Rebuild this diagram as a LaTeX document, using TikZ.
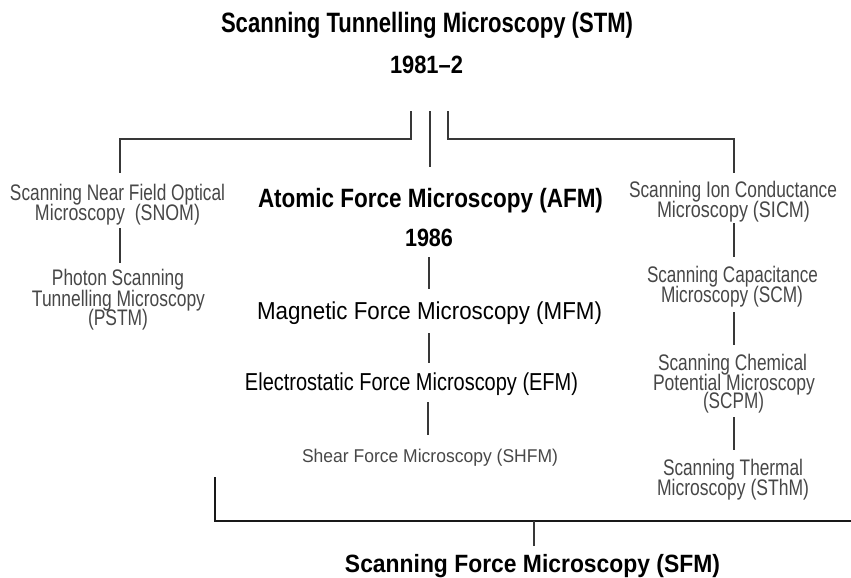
\documentclass[tikz,border=0pt]{standalone}
\usepackage{fontspec}
\usepackage{graphicx}
\setmainfont{Liberation Sans}
\usetikzlibrary{calc}
\newcommand{\fitw}[2]{\resizebox{#1pt}{\height}{#2}}
\tikzset{
  lbl/.style={inner sep=0pt, anchor=base},
  bigbold/.style={lbl, font=\fontsize{28}{28}\selectfont\bfseries},
  midbold/.style={lbl, font=\fontsize{25}{25}\selectfont\bfseries},
  afmbold/.style={lbl, font=\fontsize{26.5}{26.5}\selectfont\bfseries},
  midreg/.style={lbl, font=\fontsize{24.5}{24.5}\selectfont},
  sidereg/.style={lbl, text=black!72, font=\fontsize{22.5}{22.5}\selectfont},
  smallreg/.style={lbl, text=black!72, font=\fontsize{18.5}{18.5}\selectfont},
  conn/.style={draw=black!78, line width=1.5pt},
  baseconn/.style={draw=black!90, line width=1.7pt}
}
\begin{document}
\begin{tikzpicture}[x=1pt,y=-1pt]
\useasboundingbox (0,0) rectangle (851,578);
% top
\node[bigbold] (stm) at (427,33) {\fitw{412}{Scanning Tunnelling Microscopy (STM)}};
\node[midbold] (yr) at (426.5,73) {\fitw{73}{1981--2}};
% centre column
\node[afmbold] (afm) at (430.5,207) {\fitw{345}{Atomic Force Microscopy (AFM)}};
\node[midbold] (yr86) at (429,246) {\fitw{48}{1986}};
\node[midreg] (mfm) at (429.5,319) {\fitw{345}{Magnetic Force Microscopy (MFM)}};
\node[midreg] (efm) at (411.5,390) {\fitw{333}{Electrostatic Force Microscopy (EFM)}};
\node[smallreg] (shfm) at (430,462) {\fitw{256}{Shear Force Microscopy (SHFM)}};
% left column
\node[sidereg] (snom1) at (117.5,200) {\fitw{215}{Scanning Near Field Optical}};
\node[sidereg] (snom2) at (117.5,220) {\fitw{165}{Microscopy~ (SNOM)}};
\node[sidereg] (pstm1) at (118,285) {\fitw{132}{Photon Scanning}};
\node[sidereg] (pstm2) at (118.5,306) {\fitw{173}{Tunnelling Microscopy}};
\node[sidereg] (pstm3) at (118,325) {\fitw{60}{(PSTM)}};
% right column
\node[sidereg] (sicm1) at (733,197) {\fitw{208}{Scanning Ion Conductance}};
\node[sidereg] (sicm2) at (733.5,217) {\fitw{153}{Microscopy (SICM)}};
\node[sidereg] (scm1) at (732.5,282) {\fitw{171}{Scanning Capacitance}};
\node[sidereg] (scm2) at (732,302) {\fitw{142}{Microscopy (SCM)}};
\node[sidereg] (scpm1) at (732.5,370) {\fitw{149}{Scanning Chemical}};
\node[sidereg] (scpm2) at (734,390) {\fitw{162}{Potential Microscopy}};
\node[sidereg] (scpm3) at (733.5,408) {\fitw{61}{(SCPM)}};
\node[sidereg] (sthm1) at (733,475) {\fitw{140}{Scanning Thermal}};
\node[sidereg] (sthm2) at (733,495) {\fitw{152}{Microscopy (SThM)}};
% bottom
\node[midbold] (sfm) at (532.5,572) {\fitw{375}{Scanning Force Microscopy (SFM)}};
% connectors from STM
\draw[conn] ($(yr.base)+(-15.5,38)$) -- ++(0,28) -| ($(snom1.base)+(2.5,-27)$);
\draw[conn] ($(yr.base)+(3.5,38)$) -- ($(afm.base)+(-0.5,-40)$);
\draw[conn] ($(yr.base)+(21.5,38)$) -- ++(0,28) -| ($(sicm1.base)+(1,-24)$);
% centre chain
\draw[conn] ($(yr86.base)+(0,11)$) -- ($(mfm.base)+(-0.5,-30)$);
\draw[conn] ($(mfm.base)+(-0.5,14)$) -- ($(efm.base)+(17.5,-27)$);
\draw[conn] ($(efm.base)+(16.5,12)$) -- ($(shfm.base)+(-2,-27)$);
% left chain
\draw[conn] ($(snom2.base)+(2.5,8)$) -- ($(pstm1.base)+(2,-22)$);
% right chain
\draw[conn] ($(sicm2.base)+(0.5,6)$) -- ($(scm1.base)+(1.5,-25)$);
\draw[conn] ($(scm2.base)+(2,10)$) -- ($(scpm1.base)+(1.5,-25)$);
\draw[conn] ($(scpm3.base)+(0.5,9)$) -- ($(sthm1.base)+(1,-25)$);
% SFM bracket
\coordinate (bl) at (215,477);
\coordinate (br) at (851,521);
\draw[baseconn] (bl) |- (br);
\draw[conn] ($(sfm.base)+(1.5,-26)$) coordinate (t) -- (t |- br);
\end{tikzpicture}
\end{document}
